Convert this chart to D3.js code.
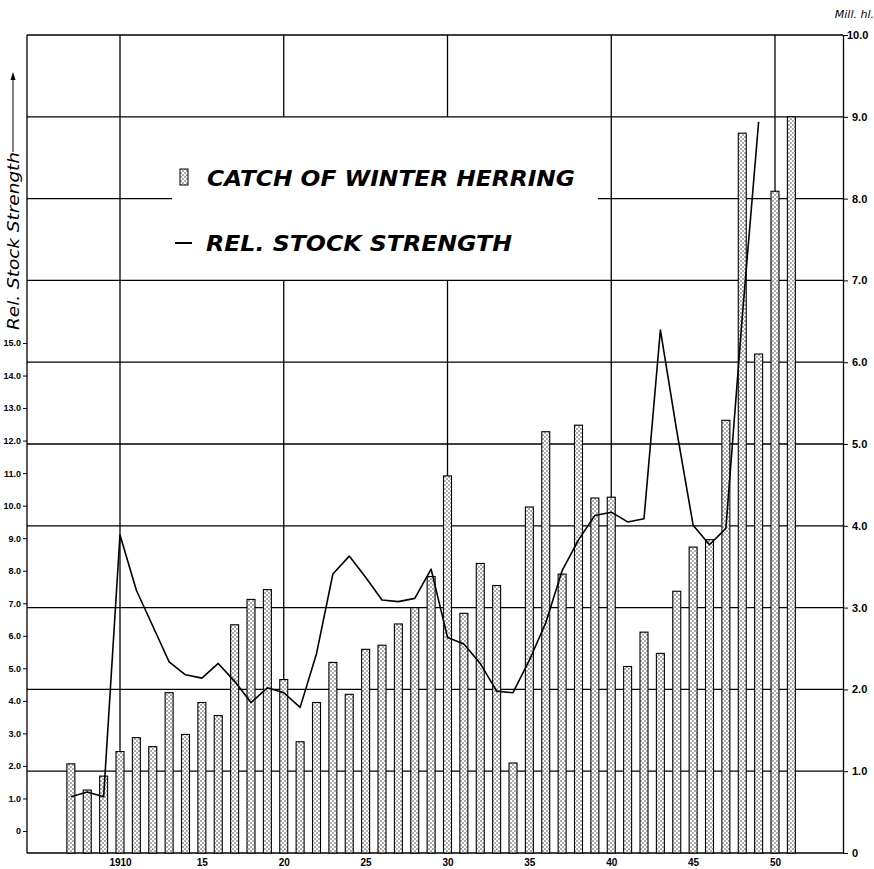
<!DOCTYPE html>
<html>
<head>
<meta charset="utf-8">
<script src="https://cdn.jsdelivr.net/npm/d3@7"></script>
<style>
  body { margin: 0; background: #fff; }
  svg { display: block; }
  .num { font-family: "Liberation Sans", Arial, sans-serif; font-weight: bold; font-size: 10px; fill: #000; }
</style>
</head>
<body>
<svg></svg>
<script>
// years on the x axis, one bar each
const years = [1907, 1908, 1909, 1910, 1911, 1912, 1913, 1914, 1915, 1916,
    1917, 1918, 1919, 1920, 1921, 1922, 1923, 1924, 1925, 1926,
    1927, 1928, 1929, 1930, 1931, 1932, 1933, 1934, 1935, 1936,
    1937, 1938, 1939, 1940, 1941, 1942, 1943, 1944, 1945, 1946,
    1947, 1948, 1949, 1950, 1951];
// catch of winter herring, Mill. hl (right axis)
const catchMillHl = [1.09, 0.77, 0.94, 1.24, 1.41, 1.30, 1.96, 1.45, 1.84, 1.68,
    2.79, 3.10, 3.22, 2.12, 1.36, 1.84, 2.33, 1.94, 2.49, 2.54,
    2.80, 3.00, 3.38, 4.61, 2.93, 3.54, 3.27, 1.10, 4.23, 5.15,
    3.41, 5.23, 4.34, 4.35, 2.28, 2.70, 2.44, 3.20, 3.74, 3.83,
    5.29, 8.80, 6.10, 8.09, 9.00];
// relative stock strength (left axis)
const stockYears = [1907, 1908, 1909, 1910, 1911, 1912, 1913, 1914, 1915, 1916,
    1917, 1918, 1919, 1920, 1921, 1922, 1923, 1924, 1925, 1926,
    1927, 1928, 1929, 1930, 1931, 1932, 1933, 1934, 1935, 1936,
    1937, 1938, 1939, 1940, 1941, 1942, 1943, 1944, 1945, 1946,
    1947, 1948, 1949];
const stockStrength = [1.05, 1.20, 1.05, 9.10, 7.40, 6.30, 5.20, 4.80, 4.70, 5.15,
    4.60, 3.95, 4.40, 4.25, 3.80, 5.45, 7.90, 8.45, 7.80, 7.10,
    7.05, 7.15, 8.05, 5.95, 5.75, 5.15, 4.30, 4.25, 5.25, 6.40,
    8.00, 8.95, 9.70, 9.80, 9.50, 9.60, 15.40, 12.30, 9.40, 8.80,
    9.30, 15.80, 21.80];

const xTicks = [1910, 1915, 1920, 1925, 1930, 1935, 1940, 1945, 1950];
const xLabels = ["1910", "15", "20", "25", "30", "35", "40", "45", "50"];
const rightTicks = [0, 1, 2, 3, 4, 5, 6, 7, 8, 9, 10];
const rightLabels = ["0", "1.0", "2.0", "3.0", "4.0", "5.0", "6.0", "7.0", "8.0", "9.0", "10.0"];
const leftTicks = [0, 1, 2, 3, 4, 5, 6, 7, 8, 9, 10, 11, 12, 13, 14, 15];
const gridYears = [1910, 1920, 1930, 1940, 1950];
const gridLevels = [1, 2, 3, 4, 5, 6, 7, 8, 9, 10];

let svgWidth = 874;
let svgHeight = 869;
let left = 27, right = 843;

let svg = d3.select("svg")
    .attr("width", svgWidth)
    .attr("height", svgHeight)

let defs = svg.append("defs")
let pat = defs.append("pattern")
    .attr("id", "dots")
    .attr("patternUnits", "userSpaceOnUse")
    .attr("width", 4)
    .attr("height", 4)
pat.append("rect").attr("width", 4).attr("height", 4).attr("fill", "#fff")
pat.append("circle").attr("cx", 1).attr("cy", 1).attr("r", 0.75).attr("fill", "#333")
pat.append("circle").attr("cx", 3).attr("cy", 3).attr("r", 0.75).attr("fill", "#333")

let x = d3.scaleLinear()
    .domain([1910, 1950])
    .range([120, 775])

let yRight = d3.scaleLinear()
    .domain([0, 10])
    .range([853, 35])

let yLeft = d3.scaleLinear()
    .domain([0, 15])
    .range([831, 343])

// grid, horizontal (8.0 line broken by the legend)
let grid = svg.append("g").attr("stroke", "#000").attr("stroke-width", 1.3)
gridLevels.forEach(function(v) {
    let segs = v === 8 ? [[left, 172], [598, right]] : [[left, right]];
    segs.forEach(function(s) {
        grid.append("line")
            .attr("x1", s[0]).attr("x2", s[1])
            .attr("y1", yRight(v)).attr("y2", yRight(v))
    })
})
// grid, vertical (1920 and 1930 broken by the legend)
gridYears.forEach(function(yr) {
    let segs = (yr === 1920 || yr === 1930) ? [[10, 9], [7, 0]] : [[10, 0]];
    segs.forEach(function(s) {
        grid.append("line")
            .attr("x1", x(yr)).attr("x2", x(yr))
            .attr("y1", yRight(s[0])).attr("y2", yRight(s[1]))
    })
})

// left axis line and baseline
svg.append("line")
    .attr("x1", left).attr("x2", left)
    .attr("y1", yRight(10)).attr("y2", yRight(0))
    .attr("stroke", "#000").attr("stroke-width", 1.3)
svg.append("line")
    .attr("x1", left).attr("x2", right)
    .attr("y1", yRight(0)).attr("y2", yRight(0))
    .attr("stroke", "#000").attr("stroke-width", 1.3)

// bars
svg.selectAll("rect.bar")
    .data(catchMillHl)
    .enter()
    .append("rect")
    .attr("class", "bar")
    .attr("x", function(d, i) { return x(years[i]) - 4 })
    .attr("y", function(d) { return yRight(d) })
    .attr("width", 8)
    .attr("height", function(d) { return yRight(0) - yRight(d) })
    .attr("fill", "url(#dots)")
    .attr("stroke", "#000")
    .attr("stroke-width", 1.1)

// stock strength line
let line = d3.line()
    .x(function(d, i) { return x(stockYears[i]) })
    .y(function(d) { return yLeft(d) })

svg.append("path")
    .datum(stockStrength)
    .attr("d", line)
    .attr("fill", "none")
    .attr("stroke", "#000")
    .attr("stroke-width", 1.6)
    .attr("stroke-linejoin", "round")

// right axis
let rightAxis = d3.axisRight(yRight)
    .tickValues(rightTicks)
    .tickFormat(function(d, i) { return rightLabels[i] })
    .tickSize(5)
    .tickSizeOuter(0)
let rightGroup = svg.append("g")
    .attr("transform", `translate(${right}, 0)`)
    .call(rightAxis)
rightGroup.select(".domain").attr("stroke-width", 1.3)
rightGroup.selectAll("text")
    .attr("class", "num")
    .attr("x", function(d) { return d === 10 ? 4 : 9 })
    .style("font-size", "11px")

svg.append("text")
    .attr("x", 874)
    .attr("y", 18)
    .attr("text-anchor", "end")
    .style("font-family", "DejaVu Sans")
    .style("font-style", "italic")
    .style("font-size", "11px")
    .text("Mill. hl.")

// left axis
let leftAxis = d3.axisLeft(yLeft)
    .tickValues(leftTicks)
    .tickFormat(function(d) { return d === 0 ? "0" : d3.format(".1f")(d) })
    .tickSize(4)
    .tickSizeOuter(0)
let leftGroup = svg.append("g")
    .attr("transform", `translate(${left}, 0)`)
    .call(leftAxis)
leftGroup.select(".domain").remove()
leftGroup.selectAll("text")
    .attr("class", "num")
    .attr("x", -6)
    .style("font-size", "9px")

// axis title with arrow
svg.append("text")
    .attr("transform", "translate(19, 241) rotate(-90)")
    .attr("text-anchor", "middle")
    .attr("textLength", 178)
    .attr("lengthAdjust", "spacingAndGlyphs")
    .style("font-family", "DejaVu Sans")
    .style("font-style", "italic")
    .style("font-size", "16px")
    .text("Rel. Stock Strength")
svg.append("line")
    .attr("x1", 13).attr("x2", 13)
    .attr("y1", 152).attr("y2", 78)
    .attr("stroke", "#000").attr("stroke-width", 1)
svg.append("path")
    .attr("d", "M13,72 L10.5,80 L15.5,80 Z")
    .attr("fill", "#000")

// bottom axis labels
let xAxis = d3.axisBottom(x)
    .tickValues(xTicks)
    .tickFormat(function(d, i) { return xLabels[i] })
    .tickSize(0)
let xGroup = svg.append("g")
    .attr("transform", `translate(0, ${yRight(0)})`)
    .call(xAxis)
xGroup.select(".domain").remove()
xGroup.selectAll("text")
    .attr("class", "num")
    .attr("y", 6)
    .style("font-size", "10px")

// legend
svg.append("rect")
    .attr("x", 180).attr("y", 169)
    .attr("width", 8).attr("height", 16)
    .attr("fill", "url(#dots)")
    .attr("stroke", "#000")
    .attr("stroke-width", 1)
svg.append("text")
    .attr("x", 207)
    .attr("y", 186)
    .attr("textLength", 368)
    .attr("lengthAdjust", "spacingAndGlyphs")
    .style("font-family", "DejaVu Sans")
    .style("font-style", "italic")
    .style("font-weight", "bold")
    .style("font-size", "21px")
    .text("CATCH OF  WINTER  HERRING")
svg.append("line")
    .attr("x1", 175).attr("x2", 192)
    .attr("y1", 243).attr("y2", 243)
    .attr("stroke", "#000").attr("stroke-width", 2)
svg.append("text")
    .attr("x", 206)
    .attr("y", 251)
    .attr("textLength", 306)
    .attr("lengthAdjust", "spacingAndGlyphs")
    .style("font-family", "DejaVu Sans")
    .style("font-style", "italic")
    .style("font-weight", "bold")
    .style("font-size", "21px")
    .text("REL. STOCK  STRENGTH")
</script>
</body>
</html>
